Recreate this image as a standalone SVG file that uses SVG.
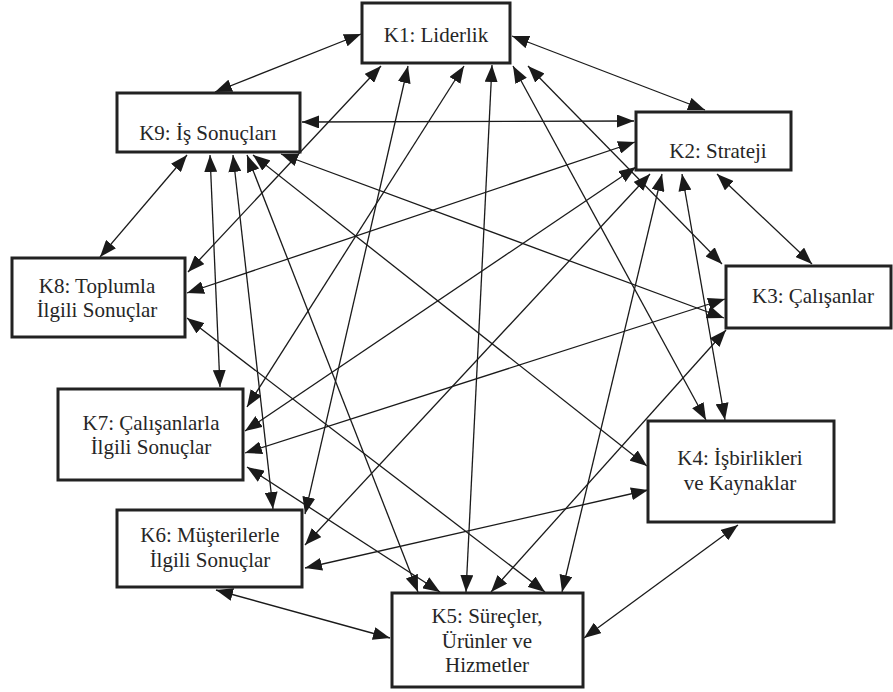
<svg xmlns="http://www.w3.org/2000/svg" width="893" height="692" viewBox="0 0 893 692">
  <style>
    .box { fill: #ffffff; stroke: #222222; stroke-width: 3; }
    .lbl { font-family: "Liberation Serif", "Times New Roman", serif; font-size: 21px; fill: #262626; text-anchor: middle; }
    .edge { stroke: #1a1a1a; stroke-width: 1.3; fill: none; marker-start: url(#head); marker-end: url(#head); }
  </style>
  <defs>
    <marker id="head" markerUnits="userSpaceOnUse" markerWidth="17" markerHeight="13" refX="17" refY="6.5" orient="auto-start-reverse">
      <path d="M0,0 L17,6.5 L0,13 z" fill="#1a1a1a"/>
    </marker>
  </defs>

  <rect width="893" height="692" fill="#ffffff"/>

  <!-- connectors: every relation is two-way -->
  <g id="connectors">
    <line class="edge" x1="361" y1="34" x2="215" y2="92"/>
    <line class="edge" x1="512" y1="36" x2="705" y2="110"/>
    <line class="edge" x1="381" y1="66" x2="188" y2="272"/>
    <line class="edge" x1="408" y1="66" x2="305" y2="514"/>
    <line class="edge" x1="464" y1="66" x2="247" y2="407"/>
    <line class="edge" x1="492" y1="65" x2="466" y2="592"/>
    <line class="edge" x1="513" y1="66" x2="706" y2="420"/>
    <line class="edge" x1="528" y1="66" x2="722" y2="264"/>

    <line class="edge" x1="302" y1="122" x2="634" y2="121"/>
    <line class="edge" x1="187" y1="155" x2="100" y2="257"/>
    <line class="edge" x1="210" y1="155" x2="220" y2="387"/>
    <line class="edge" x1="233" y1="155" x2="273" y2="509"/>
    <line class="edge" x1="247" y1="155" x2="418" y2="592"/>
    <line class="edge" x1="253" y1="155" x2="647" y2="466"/>
    <line class="edge" x1="281" y1="154" x2="724" y2="318"/>

    <line class="edge" x1="635" y1="142" x2="187" y2="293"/>
    <line class="edge" x1="636" y1="167" x2="245" y2="431"/>
    <line class="edge" x1="650" y1="174" x2="305" y2="545"/>
    <line class="edge" x1="662" y1="174" x2="562" y2="592"/>
    <line class="edge" x1="682" y1="174" x2="725" y2="420"/>
    <line class="edge" x1="717" y1="174" x2="812" y2="264"/>

    <line class="edge" x1="725" y1="299" x2="245" y2="453"/>
    <line class="edge" x1="726" y1="330" x2="491" y2="592"/>

    <line class="edge" x1="648" y1="490" x2="305" y2="568"/>
    <line class="edge" x1="738" y1="525" x2="584" y2="638"/>
    <line class="edge" x1="390" y1="638" x2="216" y2="590"/>
    <line class="edge" x1="440" y1="592" x2="247" y2="467"/>
    <line class="edge" x1="545" y1="592" x2="187" y2="318"/>
  </g>

  <g id="K1">
    <rect class="box" x="362" y="3" width="148" height="60"/>
    <text class="lbl" x="436" y="42">K1: Liderlik</text>
  </g>
  <g id="K2">
    <rect class="box" x="636" y="112" width="155" height="58"/>
    <text class="lbl" x="718" y="158">K2: Strateji</text>
  </g>
  <g id="K3">
    <rect class="box" x="726" y="266" width="165" height="62"/>
    <text class="lbl" x="813" y="303">K3: Çalışanlar</text>
  </g>
  <g id="K4">
    <rect class="box" x="648" y="421" width="186" height="101"/>
    <text class="lbl" x="740" y="465">K4: İşbirlikleri</text>
    <text class="lbl" x="740" y="490">ve Kaynaklar</text>
  </g>
  <g id="K5">
    <rect class="box" x="392" y="593" width="191" height="94"/>
    <text class="lbl" x="487" y="623">K5: Süreçler,</text>
    <text class="lbl" x="487" y="648">Ürünler ve</text>
    <text class="lbl" x="487" y="672">Hizmetler</text>
  </g>
  <g id="K6">
    <rect class="box" x="117" y="510" width="185" height="77"/>
    <text class="lbl" x="210" y="542">K6: Müşterilerle</text>
    <text class="lbl" x="210" y="567">İlgili Sonuçlar</text>
  </g>
  <g id="K7">
    <rect class="box" x="58" y="389" width="185" height="91"/>
    <text class="lbl" x="151" y="430">K7: Çalışanlarla</text>
    <text class="lbl" x="151" y="454">İlgili Sonuçlar</text>
  </g>
  <g id="K8">
    <rect class="box" x="12" y="258" width="173" height="79"/>
    <text class="lbl" x="97" y="293">K8: Toplumla</text>
    <text class="lbl" x="97" y="317">İlgili Sonuçlar</text>
  </g>
  <g id="K9">
    <rect class="box" x="117" y="93" width="183" height="59"/>
    <text class="lbl" x="208" y="140">K9: İş Sonuçları</text>
  </g>
</svg>
